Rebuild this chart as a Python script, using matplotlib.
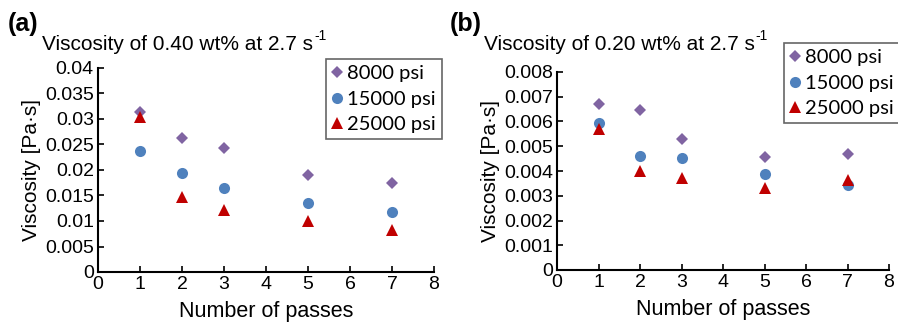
import matplotlib.pyplot as plt

plt.rcParams['font.family'] = ['Liberation Sans', 'DejaVu Sans']

passes = [1, 2, 3, 5, 7]
labels = ['8000 psi', '15000 psi', '25000 psi']

# panel (a): 0.40 wt%
a_8000 = [0.0314, 0.0263, 0.0244, 0.0190, 0.0174]
a_15000 = [0.0237, 0.0194, 0.0165, 0.0135, 0.0117]
a_25000 = [0.0304, 0.0148, 0.0121, 0.0100, 0.0083]

# panel (b): 0.20 wt%
b_8000 = [0.00672, 0.00645, 0.00528, 0.00457, 0.00468]
b_15000 = [0.00592, 0.00460, 0.00454, 0.00389, 0.00343]
b_25000 = [0.00568, 0.00398, 0.00371, 0.00331, 0.00364]

a_yticks = [0, 0.005, 0.01, 0.015, 0.02, 0.025, 0.03, 0.035, 0.04]
a_yticklabels = ['0', '0.005', '0.01', '0.015', '0.02', '0.025', '0.03', '0.035', '0.04']
b_yticks = [0, 0.001, 0.002, 0.003, 0.004, 0.005, 0.006, 0.007, 0.008]
b_yticklabels = ['0', '0.001', '0.002', '0.003', '0.004', '0.005', '0.006', '0.007', '0.008']

W, H = 898, 326
fig = plt.figure(figsize=(W / 100, H / 100), dpi=100)
renderer = fig.canvas.get_renderer()

def px(x0, y0, x1, y1):
    return [x0 / W, 1 - y1 / H, (x1 - x0) / W, (y1 - y0) / H]

styles = [dict(marker='D', color='#8064A2', ms=6.5),
          dict(marker='o', color='#4F81BD', ms=8),
          dict(marker='^', color='#C00000', ms=8)]

def panel(rect, series, yticks, yticklabels, letter, title, tpos, lpos):
    ax = fig.add_axes(rect)
    for vals, st, lab in zip(series, styles, labels):
        ax.plot(passes, vals, linestyle='none', marker=st['marker'], color=st['color'],
                ms=st['ms'], mew=0, label=lab, clip_on=False)
    ax.set_xlim(0, 8)
    ax.set_ylim(yticks[0], yticks[-1])
    ax.set_xticks(range(9))
    ax.set_yticks(yticks)
    ax.set_yticklabels(yticklabels)
    for s in ['top', 'right']:
        ax.spines[s].set_visible(False)
    for s in ['left', 'bottom']:
        ax.spines[s].set_linewidth(1.5)
    ax.tick_params(direction='in', length=4, width=1.2, labelsize=14, pad=3)
    ax.set_xlabel('Number of passes', fontsize=15.5, labelpad=6)
    ax.set_ylabel('Viscosity [Pa·s]', fontsize=15, labelpad=3)

    # panel letter, title and a small "-1" superscript after the "s"
    fig.text(tpos[0] / W, 1 - 31 / H, letter, fontsize=18, fontweight='bold', va='baseline')
    t = fig.text((tpos[0] + 34) / W, 1 - 50 / H, title, fontsize=15, va='baseline')
    bb = t.get_window_extent(renderer)
    fig.text((bb.x1 + 1) / W, 1 - 40 / H, '-1', fontsize=10, va='baseline')

    leg = ax.legend(loc='upper left', bbox_to_anchor=(lpos[0] / W, 1 - lpos[1] / H),
                    bbox_transform=fig.transFigure, borderaxespad=0, frameon=True,
                    fancybox=False, edgecolor='#404040', handletextpad=0.25,
                    handlelength=0.5, borderpad=0.3, labelspacing=0.42,
                    prop={'family': 'Lato', 'size': 14.5})
    leg.get_frame().set_linewidth(1.2)
    return ax

panel(px(98, 68, 434, 272), [a_8000, a_15000, a_25000], a_yticks, a_yticklabels,
      '(a)', 'Viscosity of 0.40 wt% at 2.7 s', (8, 30), (326, 59))
panel(px(557, 72, 889, 270), [b_8000, b_15000, b_25000], b_yticks, b_yticklabels,
      '(b)', 'Viscosity of 0.20 wt% at 2.7 s', (450, 30), (784, 43))

fig.savefig('out.png', dpi=100)
